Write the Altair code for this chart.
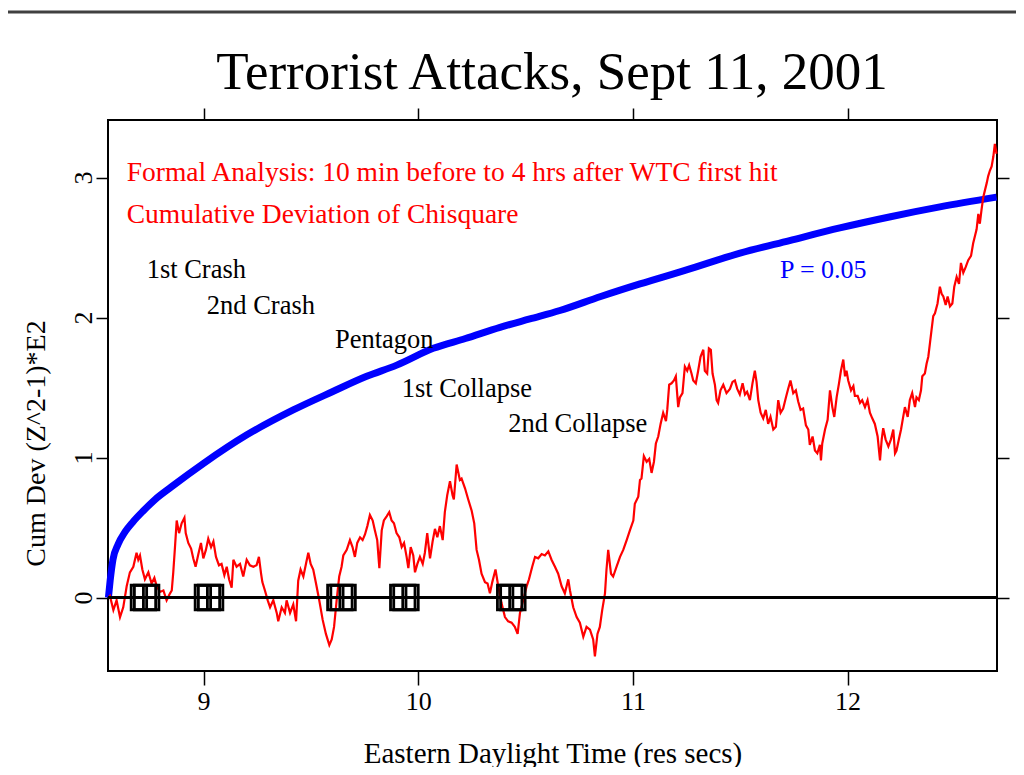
import altair as alt
import pandas as pd

# ---------------- data ----------------
X_DOMAIN = [8.555, 12.696]
Y_DOMAIN = [-0.525, 3.411]
x_ticks = [9, 10, 11, 12]
y_ticks = [0, 1, 2, 3]

# cumulative deviation (red), in pieces
red_a = [(8.558, 0.00), (8.564, 0.01), (8.580, -0.09), (8.595, -0.02), (8.611, -0.14), (8.626, -0.07),
         (8.642, 0.08), (8.657, 0.18), (8.673, 0.22), (8.688, 0.32), (8.696, 0.27), (8.704, 0.30),
         (8.715, 0.20), (8.727, 0.13), (8.743, 0.18), (8.758, 0.10), (8.771, 0.14), (8.782, 0.08),
         (8.797, 0.04), (8.813, 0.05), (8.828, -0.02), (8.844, 0.03), (8.852, 0.05), (8.859, 0.18),
         (8.867, 0.36), (8.875, 0.55), (8.886, 0.46), (8.898, 0.53), (8.911, 0.57), (8.917, 0.46),
         (8.929, 0.39), (8.942, 0.35), (8.952, 0.28), (8.963, 0.22), (8.976, 0.31), (8.988, 0.39),
         (8.999, 0.28), (9.011, 0.34), (9.022, 0.42), (9.035, 0.36), (9.046, 0.40), (9.058, 0.29),
         (9.072, 0.23), (9.084, 0.24), (9.097, 0.16), (9.108, 0.22), (9.119, 0.13), (9.131, 0.07),
         (9.139, 0.27), (9.154, 0.22), (9.170, 0.24), (9.185, 0.15), (9.201, 0.27), (9.216, 0.23),
         (9.232, 0.22), (9.247, 0.23), (9.258, 0.29), (9.268, 0.17), (9.274, 0.11), (9.286, 0.05),
         (9.299, -0.02), (9.310, -0.07), (9.325, -0.02), (9.341, -0.11), (9.348, -0.17), (9.364, -0.07),
         (9.379, -0.11)]
red_b = [(9.387, -0.02), (9.403, -0.11), (9.418, -0.05), (9.431, -0.17), (9.441, 0.12), (9.452, 0.20),
         (9.465, 0.15), (9.477, 0.24), (9.488, 0.32), (9.499, 0.24), (9.511, 0.20), (9.524, 0.10),
         (9.539, -0.02), (9.555, -0.16), (9.570, -0.26), (9.586, -0.34), (9.597, -0.30), (9.608, -0.21),
         (9.620, -0.02), (9.632, 0.15), (9.643, 0.22), (9.651, 0.30), (9.667, 0.34), (9.682, 0.41),
         (9.694, 0.36), (9.705, 0.29), (9.716, 0.39), (9.729, 0.43), (9.741, 0.41), (9.752, 0.45),
         (9.763, 0.51), (9.775, 0.59), (9.788, 0.55), (9.798, 0.48), (9.809, 0.41), (9.819, 0.21),
         (9.830, 0.48), (9.840, 0.55), (9.853, 0.58), (9.865, 0.61), (9.876, 0.55), (9.887, 0.53),
         (9.899, 0.46), (9.912, 0.43), (9.923, 0.36), (9.934, 0.39), (9.946, 0.29), (9.954, 0.21),
         (9.965, 0.36), (9.977, 0.30), (9.985, 0.18), (9.996, 0.24), (10.008, 0.29), (10.021, 0.24),
         (10.031, 0.32), (10.042, 0.46), (10.055, 0.28), (10.067, 0.40), (10.078, 0.49), (10.089, 0.43),
         (10.101, 0.51), (10.114, 0.41), (10.124, 0.61), (10.135, 0.73), (10.148, 0.83), (10.160, 0.73),
         (10.166, 0.70), (10.179, 0.95), (10.194, 0.84)]
red_c = [(10.202, 0.85), (10.218, 0.78), (10.233, 0.70), (10.249, 0.62), (10.261, 0.53), (10.272, 0.34),
         (10.283, 0.27), (10.295, 0.17), (10.311, 0.11), (10.323, 0.10), (10.334, 0.03), (10.345, 0.11),
         (10.360, 0.20), (10.373, 0.08), (10.388, -0.04), (10.404, -0.14), (10.419, -0.17), (10.435, -0.18),
         (10.450, -0.21), (10.463, -0.26), (10.474, -0.11), (10.489, -0.02), (10.505, 0.08), (10.516, 0.13),
         (10.531, 0.22), (10.544, 0.29), (10.559, 0.28), (10.575, 0.31), (10.590, 0.30), (10.606, 0.33),
         (10.621, 0.27), (10.637, 0.22), (10.652, 0.17), (10.668, 0.08), (10.683, 0.03), (10.699, 0.13),
         (10.707, 0.05), (10.722, -0.07), (10.738, -0.14), (10.753, -0.18), (10.769, -0.28), (10.784, -0.21),
         (10.800, -0.23), (10.815, -0.30), (10.823, -0.42), (10.835, -0.26), (10.846, -0.21), (10.857, -0.09),
         (10.870, 0.03), (10.877, 0.20), (10.885, 0.34), (10.898, 0.17), (10.908, 0.15), (10.924, 0.22),
         (10.940, 0.29), (10.955, 0.34), (10.971, 0.41), (10.986, 0.48), (11.002, 0.55), (11.009, 0.67),
         (11.025, 0.72), (11.033, 0.84)]
red_d = [(11.040, 0.85), (11.051, 1.01), (11.064, 0.97), (11.076, 0.99), (11.087, 0.89), (11.098, 0.97),
         (11.107, 1.10), (11.118, 1.15), (11.129, 1.24), (11.141, 1.32), (11.154, 1.26), (11.160, 1.34),
         (11.169, 1.52), (11.180, 1.53), (11.191, 1.55), (11.200, 1.58), (11.211, 1.36), (11.219, 1.43),
         (11.231, 1.46), (11.242, 1.65), (11.253, 1.62), (11.262, 1.66), (11.273, 1.60), (11.281, 1.55),
         (11.293, 1.53), (11.304, 1.62), (11.315, 1.72), (11.328, 1.77), (11.335, 1.62), (11.346, 1.60),
         (11.354, 1.78), (11.363, 1.77), (11.371, 1.60), (11.382, 1.52), (11.390, 1.41), (11.397, 1.39),
         (11.408, 1.48), (11.421, 1.52), (11.436, 1.46), (11.452, 1.49), (11.464, 1.54), (11.475, 1.55),
         (11.486, 1.49), (11.498, 1.45), (11.511, 1.53), (11.522, 1.45), (11.532, 1.47), (11.545, 1.41),
         (11.557, 1.53), (11.568, 1.62), (11.576, 1.54), (11.584, 1.41), (11.595, 1.32), (11.607, 1.28),
         (11.619, 1.34), (11.630, 1.24), (11.641, 1.29), (11.654, 1.20), (11.666, 1.22), (11.677, 1.41),
         (11.688, 1.32), (11.700, 1.35), (11.713, 1.43), (11.723, 1.49), (11.734, 1.55), (11.747, 1.46),
         (11.759, 1.48), (11.770, 1.40), (11.781, 1.34), (11.793, 1.35), (11.806, 1.23), (11.817, 1.20),
         (11.824, 1.09), (11.837, 1.15), (11.848, 1.05), (11.859, 1.03), (11.871, 1.09)]
red_e = [(11.876, 0.98), (11.882, 1.10), (11.895, 1.20), (11.907, 1.27), (11.918, 1.48), (11.929, 1.36),
         (11.938, 1.29), (11.949, 1.43), (11.960, 1.53), (11.969, 1.62), (11.980, 1.70), (11.988, 1.58),
         (11.995, 1.62), (12.003, 1.55), (12.016, 1.48), (12.027, 1.51), (12.034, 1.44), (12.047, 1.44),
         (12.058, 1.39), (12.068, 1.41), (12.081, 1.36), (12.093, 1.41), (12.104, 1.32), (12.115, 1.28),
         (12.127, 1.24), (12.140, 1.15), (12.151, 0.98), (12.159, 1.13), (12.166, 1.21), (12.177, 1.13),
         (12.190, 1.08), (12.202, 1.13), (12.213, 1.20), (12.221, 1.03), (12.228, 1.05), (12.239, 1.13),
         (12.249, 1.20), (12.259, 1.29), (12.267, 1.36), (12.280, 1.29), (12.290, 1.41), (12.301, 1.46),
         (12.314, 1.36), (12.321, 1.43), (12.332, 1.41), (12.342, 1.48), (12.348, 1.58), (12.360, 1.60),
         (12.368, 1.67), (12.376, 1.72), (12.384, 1.82), (12.391, 1.91), (12.399, 2.01), (12.407, 2.03),
         (12.419, 2.10), (12.430, 2.22), (12.438, 2.17), (12.446, 2.15), (12.457, 2.09), (12.466, 2.15),
         (12.477, 2.08), (12.488, 2.10), (12.497, 2.22), (12.508, 2.29), (12.519, 2.24), (12.528, 2.39),
         (12.539, 2.32), (12.550, 2.36), (12.562, 2.41), (12.575, 2.44), (12.585, 2.53), (12.593, 2.58),
         (12.601, 2.63), (12.609, 2.74), (12.616, 2.67), (12.624, 2.77), (12.632, 2.86), (12.640, 2.91),
         (12.648, 2.96), (12.655, 3.01), (12.663, 3.05), (12.671, 3.08), (12.679, 3.15), (12.686, 3.24),
         (12.694, 3.17)]

# P = 0.05 envelope (blue)
blue_time = [8.557, 8.565, 8.578, 8.602, 8.635, 8.671, 8.720, 8.774, 8.850, 9.002, 9.200, 9.418, 9.600,
             9.760, 9.900, 10.070, 10.220, 10.381, 10.520, 10.660, 10.850, 11.033, 11.250, 11.499,
             11.730, 11.964, 12.200, 12.430, 12.694]
blue_value = [0.00, 0.12, 0.27, 0.38, 0.47, 0.54, 0.62, 0.70, 0.79, 0.96, 1.16, 1.34, 1.47,
              1.58, 1.66, 1.78, 1.85, 1.93, 1.99, 2.05, 2.15, 2.24, 2.34, 2.46,
              2.55, 2.64, 2.72, 2.79, 2.86]

# event markers on the zero line
marker_time = [8.720, 8.735, 9.018, 9.033, 9.635, 9.650, 9.928, 9.943, 10.426, 10.441]
marker_value = [0, 0, 0, 0, 0, 0, 0, 0, 0, 0]

# event labels
event_labels = ["1st Crash", "2nd Crash", "Pentagon", "1st Collapse", "2nd Collapse"]
event_label_time = [8.735, 9.015, 9.612, 9.923, 10.419]
event_label_value = [2.34, 2.08, 1.84, 1.49, 1.24]

note_labels = ["Formal Analysis: 10 min before to 4 hrs after WTC first hit",
               "Cumulative Deviation of Chisquare"]
note_time = [8.642, 8.642]
note_value = [3.03, 2.73]

p_label = ["P = 0.05"]
p_time = [11.685]
p_value = [2.34]

title_text = ["Terrorist Attacks, Sept 11, 2001"]

# ---------------- tables ----------------
red_df = pd.DataFrame(red_a + red_b + red_c + red_d + red_e, columns=["t", "v"])
blue_df = pd.DataFrame({"t": blue_time, "v": blue_value})
marker_df = pd.DataFrame({"t": marker_time, "v": marker_value})
event_df = pd.DataFrame({"t": event_label_time, "v": event_label_value, "label": event_labels})
note_df = pd.DataFrame({"t": note_time, "v": note_value, "label": note_labels})
p_df = pd.DataFrame({"t": p_time, "v": p_value, "label": p_label})
zero_df = pd.DataFrame({"v": [0]})
one_df = pd.DataFrame({"a": [0]})
title_df = pd.DataFrame({"label": title_text})

FONT = "Liberation Serif"
xs = alt.Scale(domain=X_DOMAIN, nice=False, zero=False)
ys = alt.Scale(domain=Y_DOMAIN, nice=False, zero=False)

def X(axis=None):
    return alt.X("t:Q", scale=xs, axis=axis)

def Y(axis=None):
    return alt.Y("v:Q", scale=ys, axis=axis)

x_bottom = alt.Axis(orient="bottom", values=x_ticks, format="d", tickSize=14, tickWidth=1.5,
                    tickColor="black", labelFontSize=26, labelPadding=3, labelFont=FONT,
                    labelColor="black", title="Eastern Daylight Time (res secs)", titleFont=FONT,
                    titleFontSize=29, titleFontWeight="normal", titleColor="black", titlePadding=25,
                    domain=False, grid=False)
y_left = alt.Axis(orient="left", values=y_ticks, format="d", tickSize=12, tickWidth=1.5,
                  tickColor="black", labelFontSize=26, labelPadding=0, labelFont=FONT,
                  labelColor="black", labelAngle=270, labelAlign="center", labelBaseline="bottom",
                  title="Cum Dev (Z^2-1)*E2", titleFont=FONT, titleFontSize=28,
                  titleFontWeight="normal", titleColor="black", titlePadding=20, titleY=323,
                  domain=False, grid=False)
x_top = alt.Axis(orient="top", values=x_ticks, tickSize=12, tickWidth=1.5, tickColor="black",
                 labels=False, title=None, domain=False, grid=False)
y_right = alt.Axis(orient="right", values=y_ticks, tickSize=12, tickWidth=1.5, tickColor="black",
                   labels=False, title=None, domain=False, grid=False)

blue = alt.Chart(blue_df).mark_line(color="#0000ff", strokeWidth=7, interpolate="monotone").encode(
    x=X(x_top), y=Y(y_right))
red = alt.Chart(red_df).mark_line(color="#ff0000", strokeWidth=2.2).encode(x=X(x_bottom), y=Y(y_left))
zero = alt.Chart(zero_df).mark_rule(color="black", strokeWidth=3).encode(y=Y())
markers = alt.Chart(marker_df).mark_point(
    shape="M-1,-1H1V1H-1Z M0,-1V1 M-1,0H1", size=600, filled=False, color="black",
    strokeWidth=2.8, opacity=1).encode(x=X(), y=Y())
events = alt.Chart(event_df).mark_text(font=FONT, fontSize=26.5, align="left", baseline="middle",
                                       color="black").encode(x=X(), y=Y(), text="label:N")
notes = alt.Chart(note_df).mark_text(font=FONT, fontSize=27.5, align="left", baseline="middle",
                                     color="#ff0000").encode(x=X(), y=Y(), text="label:N")
pnote = alt.Chart(p_df).mark_text(font=FONT, fontSize=26, align="left", baseline="middle",
                                  color="#0000ff").encode(x=X(), y=Y(), text="label:N")
top_rule = alt.Chart(one_df).mark_rule(color="#404040", strokeWidth=3).encode(
    x=alt.value(-100), x2=alt.value(908), y=alt.value(-108))
title = alt.Chart(title_df).mark_text(font=FONT, fontSize=53, align="center", baseline="alphabetic",
                                      color="black").encode(
    x=alt.value(444), y=alt.value(-31), text="label:N")

chart = alt.layer(blue, red, zero, markers, events, notes, pnote, top_rule, title).resolve_axis(
    x="independent", y="independent"
).properties(
    width=889, height=551,
    padding={"left": 100, "top": 112, "right": 19, "bottom": 96},
    autosize=alt.AutoSizeParams(type="none"),
).configure_view(stroke="black", strokeWidth=2)

chart.save("out.html", embed_options={"renderer": "svg", "actions": False})
